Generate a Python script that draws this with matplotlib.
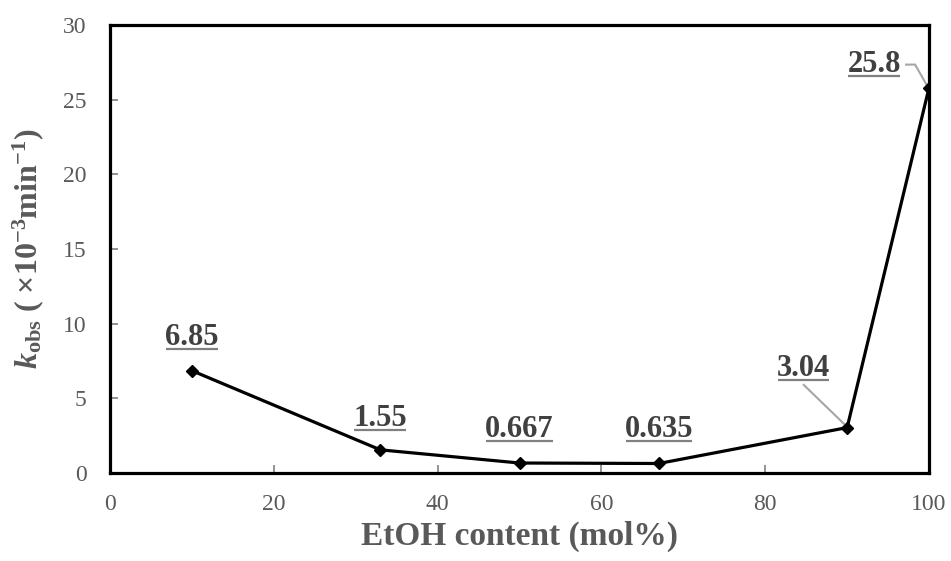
import matplotlib
matplotlib.use("Agg")
import matplotlib.pyplot as plt

# EtOH content (mol%) and observed rate constants (x10^-3 min^-1)
etoh = [10, 33, 50, 67, 90, 100]
kobs = [6.85, 1.55, 0.667, 0.635, 3.04, 25.8]
value_labels = ["6.85", "1.55", "0.667", "0.635", "3.04", "25.8"]
# label anchor positions in data units
label_x = [10.0, 33.0, 50.0, 67.0, 84.7, 93.3]
label_y = [9.05, 3.68, 2.88, 2.88, 7.03, 27.35]

x_ticks = [0, 20, 40, 60, 80, 100]
y_ticks = [0, 5, 10, 15, 20, 25, 30]

plt.rcParams["font.family"] = ["Liberation Serif", "DejaVu Serif"]
plt.rcParams["mathtext.fontset"] = "custom"
plt.rcParams["mathtext.rm"] = "Liberation Serif:bold"
plt.rcParams["mathtext.bf"] = "Liberation Serif:bold"
plt.rcParams["mathtext.it"] = "Liberation Serif:bold:italic"

fig = plt.figure(figsize=(9.51, 5.61), dpi=100)
ax = fig.add_axes([0.1157, 0.1569, 0.9769 - 0.1157, 0.9554 - 0.1569])

ax.plot(etoh, kobs, color="black", lw=2.3, marker="D", ms=6.5,
        mfc="black", mec="black", zorder=3)

ax.set_xlim(0, 100)
ax.set_ylim(0, 30)
ax.set_xticks(x_ticks)
ax.set_yticks(y_ticks)

for s in ax.spines.values():
    s.set_linewidth(2.3)
    s.set_color("black")

ax.tick_params(axis="both", direction="in", length=6, width=1.2,
               color="#7f7f7f", labelsize=17, labelcolor="#595959")
ax.tick_params(axis="x", pad=15)
ax.tick_params(axis="y", pad=17)
ax.tick_params(top=False, right=False)

ax.set_xlabel("EtOH content (mol%)", fontsize=24, fontweight="bold",
              color="#595959", labelpad=4)
ax.set_ylabel(r"$k_{\mathrm{obs}}$ ( " + "\u00d7" + r"10$^{-3}$min$^{-1}$)",
              fontsize=23, fontweight="bold", color="#595959", labelpad=12)

texts = []
for lab, lx, ly in zip(value_labels, label_x, label_y):
    t = ax.text(lx, ly, lab, ha="center", va="center", fontsize=22,
                fontweight="bold", color="#404040", zorder=4)
    texts.append(t)

# underline each value label just below its glyphs
fig.canvas.draw()
renderer = fig.canvas.get_renderer()
inv = ax.transData.inverted()
for t in texts:
    bb = t.get_window_extent(renderer)
    (x0, y0), (x1, _) = inv.transform([(bb.x0 + 1, bb.y0 + 3),
                                       (bb.x1 - 1, bb.y0 + 3)])
    ax.plot([x0, x1], [y0, y0], color="#808080", lw=1.6, zorder=4,
            solid_capstyle="butt")

# leader lines for the two upper-right labels
ax.plot([84.7, 89.6], [5.9, 3.3], color="#a6a6a6", lw=1.5, zorder=2)
ax.plot([97.2, 98.3, 99.8], [27.35, 27.35, 25.9], color="#a6a6a6",
        lw=1.5, zorder=2)

fig.savefig("out.png", dpi=100)
